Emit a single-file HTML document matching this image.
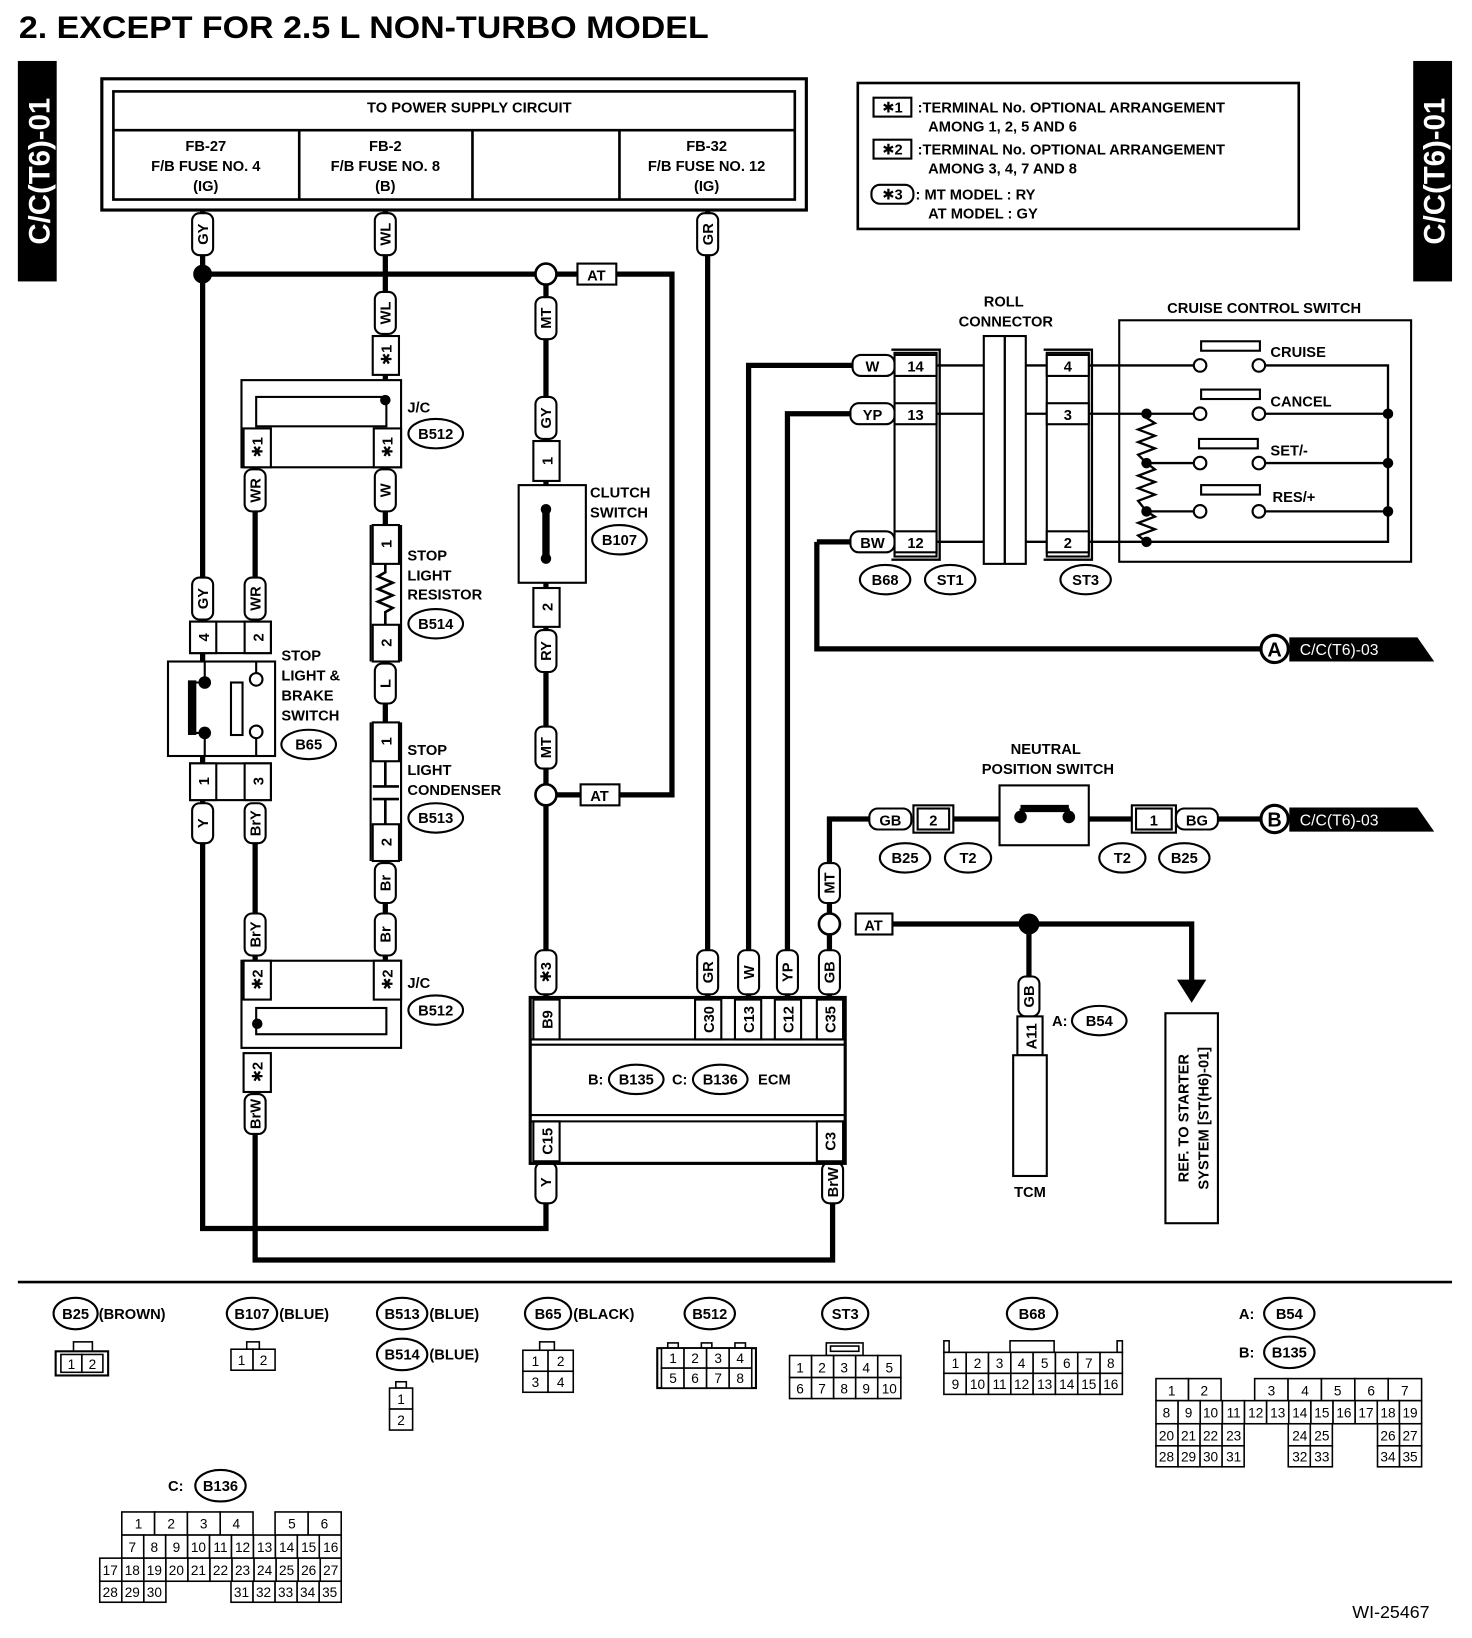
<!DOCTYPE html>
<html><head><meta charset="utf-8"><style>
html,body{margin:0;padding:0;background:#fff}
svg{display:block}
text{font-family:"Liberation Sans","DejaVu Sans",sans-serif;font-weight:bold;font-size:14px;fill:#000}
.w{fill:none;stroke:#000;stroke-width:5}
.l{fill:none;stroke:#000;stroke-width:2}
.b{fill:#fff;stroke:#000;stroke-width:2}
.c{text-anchor:middle}
.g text{font-weight:normal;font-size:13px;text-anchor:middle}
.g rect{fill:#fff;stroke:#000;stroke-width:1.5}
</style></head><body>
<svg width="1472" height="1638" viewBox="0 0 1402 1560" xmlns="http://www.w3.org/2000/svg">
<text x="18" y="36" style="font-size:30px" textLength="657" lengthAdjust="spacingAndGlyphs">2.  EXCEPT FOR 2.5 L NON-TURBO MODEL</text>
<rect x="17" y="58" width="37" height="210" fill="#000"/>
<text transform="translate(47,163) rotate(-90)" class="c" style="font-size:28px;fill:#fff">C/C(T6)-01</text>
<rect x="1346" y="58" width="37" height="210" fill="#000"/>
<text transform="translate(1376,163) rotate(-90)" class="c" style="font-size:28px;fill:#fff">C/C(T6)-01</text>

<!-- power box -->
<rect x="97" y="75" width="671" height="125" class="l" style="stroke-width:3"/>
<rect x="108" y="87" width="649" height="103" class="l" style="stroke-width:2.5"/>
<path d="M108 124H757M285 124V190M450 124V190M590 124V190" class="l" style="stroke-width:2.5"/>
<text x="447" y="107" class="c">TO POWER SUPPLY CIRCUIT</text>
<text x="196" y="144" class="c">FB-27</text><text x="196" y="163" class="c">F/B FUSE NO. 4</text><text x="196" y="182" class="c">(IG)</text>
<text x="367" y="144" class="c">FB-2</text><text x="367" y="163" class="c">F/B FUSE NO. 8</text><text x="367" y="182" class="c">(B)</text>
<text x="673" y="144" class="c">FB-32</text><text x="673" y="163" class="c">F/B FUSE NO. 12</text><text x="673" y="182" class="c">(IG)</text>

<!-- legend -->
<rect x="817" y="79" width="420" height="139" class="l" style="stroke-width:2.5"/>
<rect x="832" y="93" width="36" height="18" class="b"/><text x="850" y="107" class="c">✱1</text>
<text x="874" y="107">:TERMINAL No. OPTIONAL ARRANGEMENT</text><text x="884" y="125">AMONG 1, 2, 5 AND 6</text>
<rect x="832" y="133" width="36" height="18" class="b"/><text x="850" y="147" class="c">✱2</text>
<text x="874" y="147">:TERMINAL No. OPTIONAL ARRANGEMENT</text><text x="884" y="165">AMONG 3, 4, 7 AND 8</text>
<rect x="830" y="176" width="40" height="18" rx="8" class="b"/><text x="850" y="190" class="c">✱3</text>
<text x="872" y="190">: MT MODEL : RY</text><text x="884" y="208">AT MODEL : GY</text>

<!-- thick wires -->
<path class="w" d="M193 200V1170H520V1146M193 261H510M530 261H640V757H530M367 200V362M520 271V950M243 445V592M367 445V500M367 630V690M367 860V915M243 803V915M193 803V1170M243 1040V1200H793V1146M674 200V950M713 950V348H812M750 950V394H810M778 516V618H1200M778 516H810M790 950V890M790 870V780H828M850 880H1135V935M980 880V930M1160 780H1200M908 780H952M1037 780H1078"/>
<circle cx="193" cy="261" r="9"/>
<circle cx="980" cy="880" r="10"/>
<polygon points="1121,933 1149,933 1135,955"/>
<circle cx="520" cy="261" r="10" class="b" style="stroke-width:2.5"/>
<circle cx="520" cy="757" r="10" class="b" style="stroke-width:2.5"/>
<circle cx="790" cy="880" r="10" class="b" style="stroke-width:2.5"/>
<rect x="550" y="251" width="37" height="20" class="b"/><text x="568" y="267" class="c">AT</text>
<rect x="553" y="747" width="37" height="20" class="b"/><text x="571" y="763" class="c">AT</text>
<rect x="815" y="870" width="35" height="20" class="b"/><text x="832" y="886" class="c">AT</text>

<!-- vertical capsules -->
<g class="b">
<rect x="183" y="203" width="20" height="40" rx="7"/><rect x="357" y="203" width="20" height="40" rx="7"/><rect x="664" y="203" width="20" height="40" rx="7"/>
<rect x="357" y="278" width="20" height="40" rx="7"/><rect x="510" y="283" width="20" height="40" rx="7"/><rect x="510" y="378" width="20" height="40" rx="7"/>
<rect x="233" y="447" width="20" height="40" rx="7"/><rect x="357" y="447" width="20" height="40" rx="7"/>
<rect x="183" y="550" width="20" height="40" rx="7"/><rect x="233" y="550" width="20" height="40" rx="7"/>
<rect x="510" y="600" width="20" height="40" rx="7"/><rect x="357" y="632" width="20" height="38" rx="7"/><rect x="510" y="692" width="20" height="40" rx="7"/>
<rect x="183" y="765" width="20" height="38" rx="7"/><rect x="233" y="765" width="20" height="38" rx="7"/>
<rect x="357" y="822" width="20" height="38" rx="7"/><rect x="357" y="870" width="20" height="40" rx="7"/><rect x="233" y="870" width="20" height="40" rx="7"/>
<rect x="510" y="905" width="20" height="42" rx="7"/><rect x="664" y="905" width="20" height="42" rx="7"/><rect x="703" y="905" width="20" height="42" rx="7"/><rect x="740" y="905" width="20" height="42" rx="7"/><rect x="780" y="905" width="20" height="42" rx="7"/>
<rect x="233" y="1042" width="20" height="38" rx="7"/><rect x="510" y="1107" width="20" height="39" rx="7"/><rect x="783" y="1107" width="20" height="39" rx="7"/>
<rect x="780" y="822" width="20" height="38" rx="7"/><rect x="970" y="930" width="20" height="38" rx="7"/>
</g>
<g>
<text transform="translate(198,223) rotate(-90)" class="c">GY</text><text transform="translate(372,223) rotate(-90)" class="c">WL</text><text transform="translate(679,223) rotate(-90)" class="c">GR</text>
<text transform="translate(372,298) rotate(-90)" class="c">WL</text><text transform="translate(525,303) rotate(-90)" class="c">MT</text><text transform="translate(525,398) rotate(-90)" class="c">GY</text>
<text transform="translate(248,467) rotate(-90)" class="c">WR</text><text transform="translate(372,467) rotate(-90)" class="c">W</text>
<text transform="translate(198,570) rotate(-90)" class="c">GY</text><text transform="translate(248,570) rotate(-90)" class="c">WR</text>
<text transform="translate(525,620) rotate(-90)" class="c">RY</text><text transform="translate(372,651) rotate(-90)" class="c">L</text><text transform="translate(525,712) rotate(-90)" class="c">MT</text>
<text transform="translate(198,784) rotate(-90)" class="c">Y</text><text transform="translate(248,784) rotate(-90)" class="c">BrY</text>
<text transform="translate(372,841) rotate(-90)" class="c">Br</text><text transform="translate(372,890) rotate(-90)" class="c">Br</text><text transform="translate(248,890) rotate(-90)" class="c">BrY</text>
<text transform="translate(525,926) rotate(-90)" class="c">✱3</text><text transform="translate(679,926) rotate(-90)" class="c">GR</text><text transform="translate(718,926) rotate(-90)" class="c">W</text><text transform="translate(755,926) rotate(-90)" class="c">YP</text><text transform="translate(795,926) rotate(-90)" class="c">GB</text>
<text transform="translate(248,1061) rotate(-90)" class="c">BrW</text><text transform="translate(525,1126) rotate(-90)" class="c">Y</text><text transform="translate(798,1126) rotate(-90)" class="c">BrW</text>
<text transform="translate(795,841) rotate(-90)" class="c">MT</text><text transform="translate(985,949) rotate(-90)" class="c">GB</text>
</g>

<!-- terminal boxes -->
<g class="b">
<rect x="355" y="320" width="25" height="37"/>
<rect x="230" y="362" width="152" height="83"/><rect x="244" y="378" width="124" height="28"/>
<rect x="232" y="408" width="26" height="37"/><rect x="356" y="408" width="26" height="37"/>
<rect x="355" y="500" width="25" height="37"/><rect x="355" y="595" width="25" height="35"/>
<rect x="355" y="688" width="25" height="37"/><rect x="355" y="785" width="25" height="35"/>
<rect x="508" y="420" width="25" height="38"/><rect x="494" y="462" width="64" height="93"/><rect x="508" y="560" width="25" height="37"/>
<rect x="181" y="592" width="77" height="30"/><rect x="181" y="592" width="25" height="30"/><rect x="233" y="592" width="25" height="30"/>
<rect x="160" y="630" width="102" height="90"/>
<rect x="181" y="727" width="77" height="35"/><rect x="181" y="727" width="25" height="35"/><rect x="233" y="727" width="25" height="35"/>
<rect x="230" y="915" width="152" height="83"/><rect x="232" y="915" width="26" height="37"/><rect x="356" y="915" width="26" height="37"/><rect x="244" y="960" width="124" height="25"/>
<rect x="232" y="1003" width="26" height="37"/>
<rect x="505" y="950" width="300" height="158" style="stroke-width:3"/>
<rect x="508" y="952" width="25" height="38"/><rect x="662" y="952" width="25" height="38"/><rect x="700" y="952" width="25" height="38"/><rect x="738" y="952" width="25" height="38"/><rect x="778" y="952" width="25" height="38"/>
<rect x="508" y="1068" width="25" height="38"/><rect x="778" y="1068" width="25" height="38"/>
<rect x="969" y="968" width="24" height="37"/><rect x="965" y="1005" width="32" height="115"/>
<rect x="1110" y="965" width="50" height="200"/>
</g>
<path class="l" d="M505 990H805M505 995H805M505 1062H805M505 1068H805"/>
<circle cx="367" cy="381" r="5"/><circle cx="245" cy="975" r="5"/>
<text transform="translate(373,338) rotate(-90)" class="c">✱1</text>
<text transform="translate(250,426) rotate(-90)" class="c">✱1</text><text transform="translate(374,426) rotate(-90)" class="c">✱1</text>
<text transform="translate(373,518) rotate(-90)" class="c">1</text><text transform="translate(373,612) rotate(-90)" class="c">2</text>
<text transform="translate(373,706) rotate(-90)" class="c">1</text><text transform="translate(373,802) rotate(-90)" class="c">2</text>
<text transform="translate(526,439) rotate(-90)" class="c">1</text><text transform="translate(526,578) rotate(-90)" class="c">2</text>
<text transform="translate(199,607) rotate(-90)" class="c">4</text><text transform="translate(251,607) rotate(-90)" class="c">2</text>
<text transform="translate(199,744) rotate(-90)" class="c">1</text><text transform="translate(251,744) rotate(-90)" class="c">3</text>
<text transform="translate(250,933) rotate(-90)" class="c">✱2</text><text transform="translate(374,933) rotate(-90)" class="c">✱2</text><text transform="translate(250,1021) rotate(-90)" class="c">✱2</text>
<text transform="translate(526,971) rotate(-90)" class="c">B9</text><text transform="translate(680,971) rotate(-90)" class="c">C30</text><text transform="translate(718,971) rotate(-90)" class="c">C13</text><text transform="translate(756,971) rotate(-90)" class="c">C12</text><text transform="translate(796,971) rotate(-90)" class="c">C35</text>
<text transform="translate(526,1087) rotate(-90)" class="c">C15</text><text transform="translate(796,1087) rotate(-90)" class="c">C3</text>
<text transform="translate(987,987) rotate(-90)" class="c">A11</text>
<text x="981" y="1140" class="c">TCM</text>
<text transform="translate(1132,1065) rotate(-90)" class="c">REF. TO STARTER</text>
<text transform="translate(1151,1065) rotate(-90)" class="c">SYSTEM [ST(H6)-01]</text>

<!-- resistor & capacitor -->
<path class="l" d="M367 537V545L360 549L374 555L360 561L374 567L360 573L374 579L367 583V595" style="stroke-width:2.5"/>
<path class="l" d="M367 725V749M355 749H380M355 761H380M367 761V785" style="stroke-width:2.5"/>
<path class="l" d="M353 500V630M382 500V630M353 688V820M382 688V820" />
<!-- clutch switch internals -->
<path d="M520 485V532" style="stroke:#000;stroke-width:7"/>
<circle cx="520" cy="485" r="5"/><circle cx="520" cy="532" r="5"/>
<!-- brake switch internals -->
<path d="M183 648V700" style="stroke:#000;stroke-width:8"/>
<path class="l" d="M183 650H195M183 698H195M195 630V650M195 698V720M244 630V642M244 703V720"/>
<circle cx="195" cy="650" r="6"/><circle cx="195" cy="698" r="6"/>
<circle cx="244" cy="647" r="6" class="b"/><circle cx="244" cy="697" r="6" class="b"/>
<rect x="220" y="650" width="11" height="50" class="b"/>

<!-- labels -->
<g>
<text x="388" y="393">J/C</text><ellipse cx="415" cy="413" rx="26" ry="14" class="b"/><text x="415" y="418" class="c">B512</text>
<text x="388" y="941">J/C</text><ellipse cx="415" cy="962" rx="26" ry="14" class="b"/><text x="415" y="967" class="c">B512</text>
<text x="388" y="534">STOP</text><text x="388" y="553">LIGHT</text><text x="388" y="571">RESISTOR</text>
<ellipse cx="415" cy="594" rx="26" ry="14" class="b"/><text x="415" y="599" class="c">B514</text>
<text x="388" y="719">STOP</text><text x="388" y="738">LIGHT</text><text x="388" y="757">CONDENSER</text>
<ellipse cx="415" cy="779" rx="26" ry="14" class="b"/><text x="415" y="784" class="c">B513</text>
<text x="562" y="474">CLUTCH</text><text x="562" y="493">SWITCH</text>
<ellipse cx="590" cy="514" rx="26" ry="14" class="b"/><text x="590" y="519" class="c">B107</text>
<text x="268" y="629">STOP</text><text x="268" y="648">LIGHT &amp;</text><text x="268" y="667">BRAKE</text><text x="268" y="686">SWITCH</text>
<ellipse cx="294" cy="709" rx="26" ry="14" class="b"/><text x="294" y="714" class="c">B65</text>
<text x="560" y="1033">B:</text><ellipse cx="606" cy="1028" rx="26" ry="14" class="b"/><text x="606" y="1033" class="c">B135</text>
<text x="640" y="1033">C:</text><ellipse cx="686" cy="1028" rx="26" ry="14" class="b"/><text x="686" y="1033" class="c">B136</text>
<text x="722" y="1033">ECM</text>
<text x="1002" y="977">A:</text><ellipse cx="1047" cy="972" rx="26" ry="14" class="b"/><text x="1047" y="977" class="c">B54</text>
</g>

<!-- roll connector & cruise -->
<g class="b">
<rect x="812" y="338" width="40" height="20" rx="8"/><rect x="810" y="384" width="42" height="20" rx="8"/><rect x="810" y="506" width="42" height="20" rx="8"/>
<rect x="852" y="336" width="40" height="194"/><rect x="852" y="338" width="40" height="20"/><rect x="852" y="384" width="40" height="20"/><rect x="852" y="506" width="40" height="20"/>
<rect x="937" y="320" width="40" height="217"/>
<rect x="997" y="336" width="40" height="194"/><rect x="997" y="338" width="40" height="20"/><rect x="997" y="384" width="40" height="20"/><rect x="997" y="506" width="40" height="20"/>
<rect x="1066" y="305" width="278" height="230"/>
<rect x="1144" y="325" width="56" height="9"/><rect x="1144" y="371" width="56" height="9"/><rect x="1142" y="418" width="56" height="9"/><rect x="1144" y="462" width="56" height="9"/>
</g>
<path class="l" d="M957 320V537M849 333H895V533H849M994 333H1040V533H994M892 348H937M892 394H937M892 516H937M977 348H997M977 394H997M977 516H997M1037 348H1137M1037 394H1137M1092 441H1137M1092 487H1137M1037 516H1322V348H1205M1205 394H1322M1205 441H1322M1205 487H1322M1092 394L1092 398L1100 403L1084 409L1100 415L1084 421L1100 427L1084 433L1092 441L1100 447L1084 453L1100 459L1084 465L1100 471L1084 477L1092 487L1100 492L1084 498L1100 504L1084 510L1092 516" style="stroke-width:2.2"/>
<g class="b"><circle cx="1143" cy="348" r="6"/><circle cx="1199" cy="348" r="6"/><circle cx="1143" cy="394" r="6"/><circle cx="1199" cy="394" r="6"/><circle cx="1143" cy="441" r="6"/><circle cx="1199" cy="441" r="6"/><circle cx="1143" cy="487" r="6"/><circle cx="1199" cy="487" r="6"/></g>
<circle cx="1092" cy="394" r="5"/><circle cx="1092" cy="441" r="5"/><circle cx="1092" cy="487" r="5"/><circle cx="1092" cy="516" r="5"/>
<circle cx="1322" cy="394" r="5"/><circle cx="1322" cy="441" r="5"/><circle cx="1322" cy="487" r="5"/>
<text x="831" y="354" class="c">W</text><text x="831" y="400" class="c">YP</text><text x="831" y="522" class="c">BW</text>
<text x="872" y="354" class="c">14</text><text x="872" y="400" class="c">13</text><text x="872" y="522" class="c">12</text>
<text x="1017" y="354" class="c">4</text><text x="1017" y="400" class="c">3</text><text x="1017" y="522" class="c">2</text>
<text x="1210" y="340">CRUISE</text><text x="1210" y="387">CANCEL</text><text x="1210" y="434">SET/-</text><text x="1212" y="478">RES/+</text>
<text x="956" y="292" class="c">ROLL</text><text x="958" y="311" class="c">CONNECTOR</text>
<text x="1204" y="298" class="c">CRUISE CONTROL SWITCH</text>
<g class="b"><ellipse cx="843" cy="552" rx="24" ry="14"/><ellipse cx="905" cy="552" rx="24" ry="14"/><ellipse cx="1034" cy="552" rx="24" ry="14"/></g>
<text x="843" y="557" class="c">B68</text><text x="905" y="557" class="c">ST1</text><text x="1034" y="557" class="c">ST3</text>

<!-- A / B tags -->
<circle cx="1214" cy="618" r="13" class="b" style="stroke-width:3"/><text x="1214" y="625" class="c" style="font-size:19px">A</text>
<polygon points="1228,607 1350,607 1366,630 1228,630"/><text x="1238" y="624" style="fill:#fff;font-weight:normal;font-size:15px">C/C(T6)-03</text>
<circle cx="1214" cy="780" r="13" class="b" style="stroke-width:3"/><text x="1214" y="787" class="c" style="font-size:19px">B</text>
<polygon points="1228,769 1350,769 1366,792 1228,792"/><text x="1238" y="786" style="fill:#fff;font-weight:normal;font-size:15px">C/C(T6)-03</text>

<!-- neutral switch -->
<g class="b">
<rect x="828" y="770" width="40" height="20" rx="8"/><rect x="870" y="767" width="38" height="26"/><rect x="874" y="770" width="30" height="20"/>
<rect x="952" y="748" width="85" height="57"/>
<rect x="1078" y="767" width="42" height="26"/><rect x="1082" y="770" width="34" height="20"/><rect x="1120" y="770" width="40" height="20" rx="8"/>
</g>
<path d="M972 770H1018" style="stroke:#000;stroke-width:7"/><path class="l" d="M972 770V777M1018 770V777"/>
<circle cx="972" cy="778" r="6"/><circle cx="1018" cy="778" r="6"/>
<text x="848" y="786" class="c">GB</text><text x="889" y="786" class="c">2</text><text x="1099" y="786" class="c">1</text><text x="1140" y="786" class="c">BG</text>
<text x="996" y="718" class="c">NEUTRAL</text><text x="998" y="737" class="c">POSITION SWITCH</text>
<g class="b"><ellipse cx="862" cy="817" rx="24" ry="14"/><ellipse cx="922" cy="817" rx="22" ry="14"/><ellipse cx="1069" cy="817" rx="22" ry="14"/><ellipse cx="1128" cy="817" rx="24" ry="14"/></g>
<text x="862" y="822" class="c">B25</text><text x="922" y="822" class="c">T2</text><text x="1069" y="822" class="c">T2</text><text x="1128" y="822" class="c">B25</text>

<!-- separator -->
<path d="M17 1221H1383" style="stroke:#000;stroke-width:2.5"/>

<!-- connector legend -->
<g class="b"><ellipse cx="72" cy="1251" rx="21" ry="15"/><ellipse cx="240" cy="1251" rx="24" ry="15"/><ellipse cx="383" cy="1251" rx="24" ry="15"/><ellipse cx="522" cy="1251" rx="22" ry="15"/><ellipse cx="676" cy="1251" rx="24" ry="15"/><ellipse cx="805" cy="1251" rx="22" ry="15"/><ellipse cx="983" cy="1251" rx="24" ry="15"/><ellipse cx="1228" cy="1251" rx="24" ry="15"/><ellipse cx="1228" cy="1288" rx="24" ry="15"/><ellipse cx="383" cy="1290" rx="24" ry="15"/><ellipse cx="210" cy="1415" rx="24" ry="15"/></g>
<text x="72" y="1256" class="c">B25</text><text x="94" y="1256">(BROWN)</text>
<text x="240" y="1256" class="c">B107</text><text x="266" y="1256">(BLUE)</text>
<text x="383" y="1256" class="c">B513</text><text x="409" y="1256">(BLUE)</text>
<text x="383" y="1295" class="c">B514</text><text x="409" y="1295">(BLUE)</text>
<text x="522" y="1256" class="c">B65</text><text x="546" y="1256">(BLACK)</text>
<text x="676" y="1256" class="c">B512</text><text x="805" y="1256" class="c">ST3</text><text x="983" y="1256" class="c">B68</text>
<text x="1180" y="1256">A:</text><text x="1228" y="1256" class="c">B54</text>
<text x="1180" y="1293">B:</text><text x="1228" y="1293" class="c">B135</text>
<text x="160" y="1420">C:</text><text x="210" y="1420" class="c">B136</text>

<g class="g">
<!-- B25 -->
<rect x="70" y="1278" width="18" height="9"/><rect x="53" y="1287" width="50" height="23" style="stroke-width:2"/>
<rect x="58" y="1290" width="20" height="17"/><rect x="78" y="1290" width="20" height="17"/>
<text x="68" y="1304">1</text><text x="88" y="1304">2</text>
<!-- B107 -->
<rect x="235" y="1278" width="12" height="7"/><rect x="220" y="1285" width="21" height="20"/><rect x="241" y="1285" width="21" height="20"/>
<text x="230" y="1300">1</text><text x="251" y="1300">2</text>
<!-- B514 -->
<rect x="377" y="1316" width="10" height="6"/><rect x="371" y="1322" width="22" height="20"/><rect x="371" y="1342" width="22" height="20"/>
<text x="382" y="1337">1</text><text x="382" y="1357">2</text>
<!-- B65 -->
<rect x="514" y="1278" width="14" height="8"/>
<rect x="498" y="1286" width="24" height="20"/><rect x="522" y="1286" width="24" height="20"/><rect x="498" y="1306" width="24" height="20"/><rect x="522" y="1306" width="24" height="20"/>
<text x="510" y="1301">1</text><text x="534" y="1301">2</text><text x="510" y="1321">3</text><text x="534" y="1321">4</text>
<!-- B512 -->
<rect x="636" y="1279" width="10" height="5"/><rect x="668" y="1279" width="10" height="5"/><rect x="700" y="1279" width="10" height="5"/>
<rect x="626" y="1284" width="94" height="38" style="stroke-width:2"/>
<rect x="630" y="1284" width="21.5" height="19"/><rect x="651.5" y="1284" width="21.5" height="19"/><rect x="673" y="1284" width="21.5" height="19"/><rect x="694.5" y="1284" width="21.5" height="19"/>
<rect x="630" y="1303" width="21.5" height="19"/><rect x="651.5" y="1303" width="21.5" height="19"/><rect x="673" y="1303" width="21.5" height="19"/><rect x="694.5" y="1303" width="21.5" height="19"/>
<text x="641" y="1298">1</text><text x="662" y="1298">2</text><text x="684" y="1298">3</text><text x="705" y="1298">4</text>
<text x="641" y="1317">5</text><text x="662" y="1317">6</text><text x="684" y="1317">7</text><text x="705" y="1317">8</text>
<!-- ST3 -->
<rect x="787" y="1279" width="35" height="12"/><rect x="791" y="1282" width="27" height="5"/>
<rect x="752" y="1291" width="21" height="21"/><rect x="773" y="1291" width="21" height="21"/><rect x="794" y="1291" width="21" height="21"/><rect x="815" y="1291" width="21" height="21"/><rect x="836" y="1291" width="22" height="21"/>
<rect x="752" y="1312" width="21" height="20"/><rect x="773" y="1312" width="21" height="20"/><rect x="794" y="1312" width="21" height="20"/><rect x="815" y="1312" width="21" height="20"/><rect x="836" y="1312" width="22" height="20"/>
<text x="762" y="1307">1</text><text x="783" y="1307">2</text><text x="804" y="1307">3</text><text x="825" y="1307">4</text><text x="847" y="1307">5</text>
<text x="762" y="1327">6</text><text x="783" y="1327">7</text><text x="804" y="1327">8</text><text x="825" y="1327">9</text><text x="847" y="1327">10</text>
<!-- B68 -->
<rect x="899" y="1277" width="5" height="11"/><rect x="1064" y="1277" width="5" height="11"/><rect x="962" y="1277" width="42" height="11"/>
<rect x="899" y="1288" width="21.25" height="20"/><rect x="920.25" y="1288" width="21.25" height="20"/><rect x="941.5" y="1288" width="21.25" height="20"/><rect x="962.75" y="1288" width="21.25" height="20"/><rect x="984" y="1288" width="21.25" height="20"/><rect x="1005.25" y="1288" width="21.25" height="20"/><rect x="1026.5" y="1288" width="21.25" height="20"/><rect x="1047.75" y="1288" width="21.25" height="20"/>
<rect x="899" y="1308" width="21.25" height="20"/><rect x="920.25" y="1308" width="21.25" height="20"/><rect x="941.5" y="1308" width="21.25" height="20"/><rect x="962.75" y="1308" width="21.25" height="20"/><rect x="984" y="1308" width="21.25" height="20"/><rect x="1005.25" y="1308" width="21.25" height="20"/><rect x="1026.5" y="1308" width="21.25" height="20"/><rect x="1047.75" y="1308" width="21.25" height="20"/>
<text x="910" y="1303">1</text><text x="931" y="1303">2</text><text x="952" y="1303">3</text><text x="973" y="1303">4</text><text x="995" y="1303">5</text><text x="1016" y="1303">6</text><text x="1037" y="1303">7</text><text x="1058" y="1303">8</text>
<text x="910" y="1323">9</text><text x="931" y="1323">10</text><text x="952" y="1323">11</text><text x="973" y="1323">12</text><text x="995" y="1323">13</text><text x="1016" y="1323">14</text><text x="1037" y="1323">15</text><text x="1058" y="1323">16</text>
</g>

<!-- B135 grid -->
<g class="g">
<rect x="1101" y="1313" width="31" height="21"/><rect x="1132" y="1313" width="31" height="21"/>
<rect x="1195" y="1313" width="31.8" height="21"/><rect x="1226.8" y="1313" width="31.8" height="21"/><rect x="1258.6" y="1313" width="31.8" height="21"/><rect x="1290.4" y="1313" width="31.8" height="21"/><rect x="1322.2" y="1313" width="31.8" height="21"/>
<text x="1116" y="1329">1</text><text x="1147" y="1329">2</text><text x="1211" y="1329">3</text><text x="1243" y="1329">4</text><text x="1274" y="1329">5</text><text x="1306" y="1329">6</text><text x="1338" y="1329">7</text>
<rect x="1101" y="1334" width="21.08" height="22"/><rect x="1122.08" y="1334" width="21.08" height="22"/><rect x="1143.16" y="1334" width="21.08" height="22"/><rect x="1164.24" y="1334" width="21.08" height="22"/><rect x="1185.32" y="1334" width="21.08" height="22"/><rect x="1206.4" y="1334" width="21.08" height="22"/><rect x="1227.48" y="1334" width="21.08" height="22"/><rect x="1248.56" y="1334" width="21.08" height="22"/><rect x="1269.64" y="1334" width="21.08" height="22"/><rect x="1290.72" y="1334" width="21.08" height="22"/><rect x="1311.8" y="1334" width="21.08" height="22"/><rect x="1332.88" y="1334" width="21.12" height="22"/>
<text x="1111" y="1350">8</text><text x="1132" y="1350">9</text><text x="1153" y="1350">10</text><text x="1175" y="1350">11</text><text x="1196" y="1350">12</text><text x="1217" y="1350">13</text><text x="1238" y="1350">14</text><text x="1259" y="1350">15</text><text x="1280" y="1350">16</text><text x="1301" y="1350">17</text><text x="1322" y="1350">18</text><text x="1343" y="1350">19</text>
<rect x="1101" y="1356" width="21" height="21"/><rect x="1122" y="1356" width="21" height="21"/><rect x="1143" y="1356" width="21" height="21"/><rect x="1164" y="1356" width="21" height="21"/>
<rect x="1227" y="1356" width="21" height="21"/><rect x="1248" y="1356" width="21" height="21"/><rect x="1312" y="1356" width="21" height="21"/><rect x="1333" y="1356" width="21" height="21"/>
<text x="1111" y="1372">20</text><text x="1132" y="1372">21</text><text x="1153" y="1372">22</text><text x="1175" y="1372">23</text><text x="1238" y="1372">24</text><text x="1259" y="1372">25</text><text x="1322" y="1372">26</text><text x="1343" y="1372">27</text>
<rect x="1101" y="1377" width="21" height="20"/><rect x="1122" y="1377" width="21" height="20"/><rect x="1143" y="1377" width="21" height="20"/><rect x="1164" y="1377" width="21" height="20"/>
<rect x="1227" y="1377" width="21" height="20"/><rect x="1248" y="1377" width="21" height="20"/><rect x="1312" y="1377" width="21" height="20"/><rect x="1333" y="1377" width="21" height="20"/>
<text x="1111" y="1392">28</text><text x="1132" y="1392">29</text><text x="1153" y="1392">30</text><text x="1175" y="1392">31</text><text x="1238" y="1392">32</text><text x="1259" y="1392">33</text><text x="1322" y="1392">34</text><text x="1343" y="1392">35</text>
</g>

<!-- B136 grid -->
<g class="g">
<rect x="116" y="1440" width="31.25" height="22"/><rect x="147.25" y="1440" width="31.25" height="22"/><rect x="178.5" y="1440" width="31.25" height="22"/><rect x="209.75" y="1440" width="31.25" height="22"/>
<rect x="262" y="1440" width="31.5" height="22"/><rect x="293.5" y="1440" width="31.5" height="22"/>
<text x="132" y="1456">1</text><text x="163" y="1456">2</text><text x="194" y="1456">3</text><text x="225" y="1456">4</text><text x="278" y="1456">5</text><text x="309" y="1456">6</text>
<rect x="116" y="1462" width="20.9" height="22"/><rect x="136.9" y="1462" width="20.9" height="22"/><rect x="157.8" y="1462" width="20.9" height="22"/><rect x="178.7" y="1462" width="20.9" height="22"/><rect x="199.6" y="1462" width="20.9" height="22"/><rect x="220.5" y="1462" width="20.9" height="22"/><rect x="241.4" y="1462" width="20.9" height="22"/><rect x="262.3" y="1462" width="20.9" height="22"/><rect x="283.2" y="1462" width="20.9" height="22"/><rect x="304.1" y="1462" width="20.9" height="22"/>
<text x="126" y="1478">7</text><text x="147" y="1478">8</text><text x="168" y="1478">9</text><text x="189" y="1478">10</text><text x="210" y="1478">11</text><text x="231" y="1478">12</text><text x="252" y="1478">13</text><text x="273" y="1478">14</text><text x="294" y="1478">15</text><text x="315" y="1478">16</text>
<rect x="95" y="1484" width="21" height="22"/><rect x="116" y="1484" width="21" height="22"/><rect x="137" y="1484" width="21" height="22"/><rect x="158" y="1484" width="21" height="22"/><rect x="179" y="1484" width="21" height="22"/><rect x="200" y="1484" width="21" height="22"/><rect x="221" y="1484" width="21" height="22"/><rect x="242" y="1484" width="21" height="22"/><rect x="263" y="1484" width="21" height="22"/><rect x="284" y="1484" width="21" height="22"/><rect x="305" y="1484" width="20" height="22"/>
<text x="105" y="1500">17</text><text x="126" y="1500">18</text><text x="147" y="1500">19</text><text x="168" y="1500">20</text><text x="189" y="1500">21</text><text x="210" y="1500">22</text><text x="231" y="1500">23</text><text x="252" y="1500">24</text><text x="273" y="1500">25</text><text x="294" y="1500">26</text><text x="315" y="1500">27</text>
<rect x="95" y="1506" width="21" height="20"/><rect x="116" y="1506" width="21" height="20"/><rect x="137" y="1506" width="21" height="20"/>
<rect x="220" y="1506" width="21" height="20"/><rect x="241" y="1506" width="21" height="20"/><rect x="262" y="1506" width="21" height="20"/><rect x="283" y="1506" width="21" height="20"/><rect x="304" y="1506" width="21" height="20"/>
<text x="105" y="1521">28</text><text x="126" y="1521">29</text><text x="147" y="1521">30</text><text x="230" y="1521">31</text><text x="251" y="1521">32</text><text x="272" y="1521">33</text><text x="293" y="1521">34</text><text x="314" y="1521">35</text>
</g>

<text x="1288" y="1541" style="font-weight:normal;font-size:17px">WI-25467</text>
</svg>
</body></html>
